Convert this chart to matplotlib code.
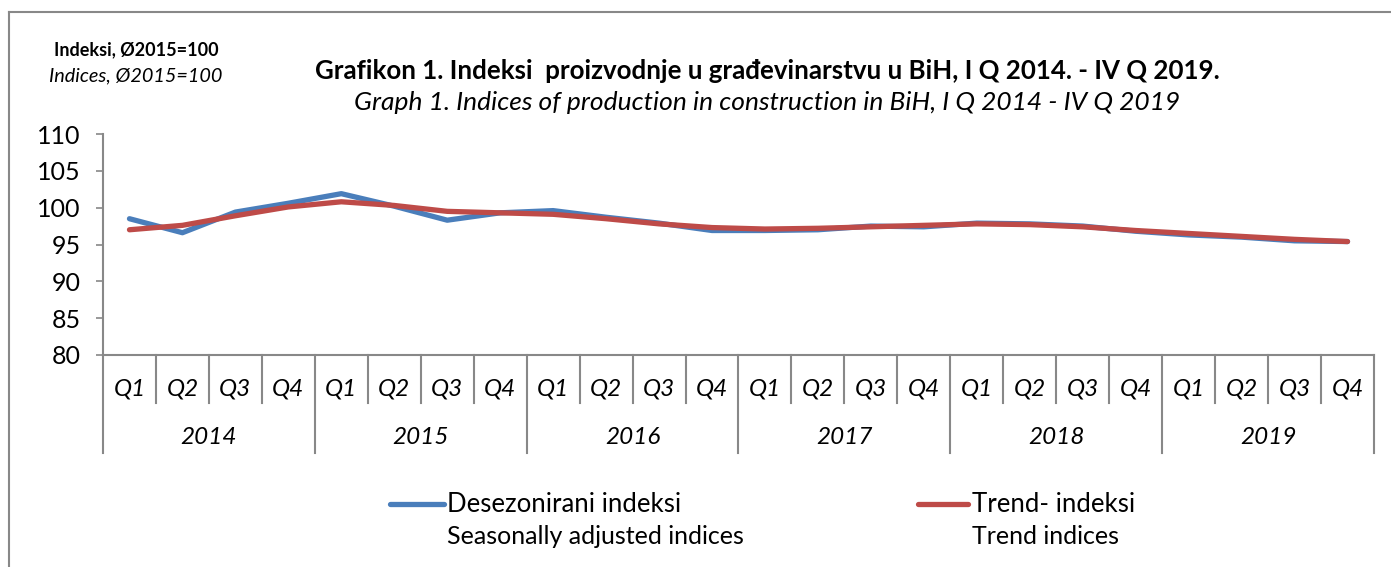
import matplotlib
matplotlib.use("Agg")
import matplotlib.pyplot as plt
import numpy as np
from matplotlib.lines import Line2D
import matplotlib.transforms as mtransforms

years = ["2014", "2015", "2016", "2017", "2018", "2019"]
quarters = ["Q1", "Q2", "Q3", "Q4"]
seasonally_adjusted = [98.5, 96.6, 99.4, 100.6,
                       101.9, 100.2, 98.3, 99.3,
                       99.6, 98.7, 97.9, 96.9,
                       96.9, 97.0, 97.5, 97.4,
                       97.9, 97.8, 97.5, 96.8,
                       96.3, 96.0, 95.5, 95.4]
trend = [97.0, 97.6, 98.9, 100.1,
         100.8, 100.3, 99.5, 99.3,
         99.1, 98.5, 97.8, 97.3,
         97.1, 97.2, 97.4, 97.6,
         97.8, 97.7, 97.4, 96.9,
         96.5, 96.1, 95.7, 95.4]
y_ticks = [80, 85, 90, 95, 100, 105, 110]

plt.rcParams['font.family'] = ['Lato', 'DejaVu Sans']

W, H = 1391, 567
fig = plt.figure(figsize=(W / 100, H / 100), dpi=100)
ax = fig.add_axes([103 / W, 1 - 355 / H, (1374 - 103) / W, (355 - 134) / H])

n = len(seasonally_adjusted)
x = np.arange(n)
blue = "#4A7EBB"
red = "#BE4B48"
ax.plot(x, seasonally_adjusted, color=blue, lw=3.8, solid_capstyle="round", solid_joinstyle="round")
ax.plot(x, trend, color=red, lw=3.8, solid_capstyle="round", solid_joinstyle="round")

ax.set_xlim(-0.5, n - 0.5)
ax.set_ylim(80, 110)
ax.set_yticks(y_ticks)
ax.set_yticklabels([str(v) for v in y_ticks], fontsize=18)
ax.tick_params(axis="y", length=5, width=1.2, color="#888888", direction="out", pad=11)
ax.set_xticks([])
for s in ["top", "right"]:
    ax.spines[s].set_visible(False)
for s in ["left", "bottom"]:
    ax.spines[s].set_color("#888888")
    ax.spines[s].set_linewidth(1.5)

trans = mtransforms.blended_transform_factory(ax.transData, fig.transFigure)
y_axis = 1 - 355 / H
y_qsep = 1 - 403 / H
y_ysep = 1 - 453 / H
y_qlab = 1 - 389 / H
y_ylab = 1 - 437 / H
for i in range(n + 1):
    xb = i - 0.5
    bottom = y_ysep if i % 4 == 0 else y_qsep
    fig.add_artist(Line2D([xb, xb], [y_axis, bottom], transform=trans, color="#888888", lw=1.5))
for i in range(n):
    fig.text(i, y_qlab, quarters[i % 4], transform=trans, ha="center", va="center",
             fontsize=17.5, style="italic")
for j, yr in enumerate(years):
    fig.text(j * 4 + 1.5, y_ylab, yr, transform=trans, ha="center", va="center",
             fontsize=17.5, style="italic")

# titles
fig.text(767 / W, 1 - 71 / H, "Grafikon 1. Indeksi  proizvodnje u građevinarstvu u BiH, I Q 2014. - IV Q 2019.",
         ha="center", va="center", fontsize=18.6, fontweight="bold")
fig.text(767 / W, 1 - 102 / H, "Graph 1. Indices of production in construction in BiH, I Q 2014 - IV Q 2019",
         ha="center", va="center", fontsize=19, style="italic")
fig.text(136 / W, 1 - 50 / H, "Indeksi, Ø2015=100", ha="center", va="center",
         fontsize=13, fontweight="bold")
fig.text(136 / W, 1 - 76 / H, "Indices, Ø2015=100", ha="center", va="center",
         fontsize=14.3, style="italic")

# legend
fig.add_artist(Line2D([390 / W, 444 / W], [1 - 504 / H] * 2, color=blue, lw=3.8, solid_capstyle="round"))
fig.text(447 / W, 1 - 504 / H, "Desezonirani indeksi", ha="left", va="center", fontsize=18.5)
fig.text(447 / W, 1 - 537 / H, "Seasonally adjusted indices", ha="left", va="center", fontsize=18)
fig.add_artist(Line2D([918 / W, 968 / W], [1 - 504 / H] * 2, color=red, lw=3.8, solid_capstyle="round"))
fig.text(972 / W, 1 - 504 / H, "Trend- indeksi", ha="left", va="center", fontsize=18.5)
fig.text(972 / W, 1 - 537 / H, "Trend indices", ha="left", va="center", fontsize=18)

# outer border
fig.add_artist(Line2D([9 / W, 9 / W], [0, 1 - 12 / H], color="#888888", lw=1.5))
fig.add_artist(Line2D([9 / W, 1], [1 - 12 / H, 1 - 12 / H], color="#888888", lw=1.5))

fig.savefig("out.png", dpi=100, facecolor="white")
